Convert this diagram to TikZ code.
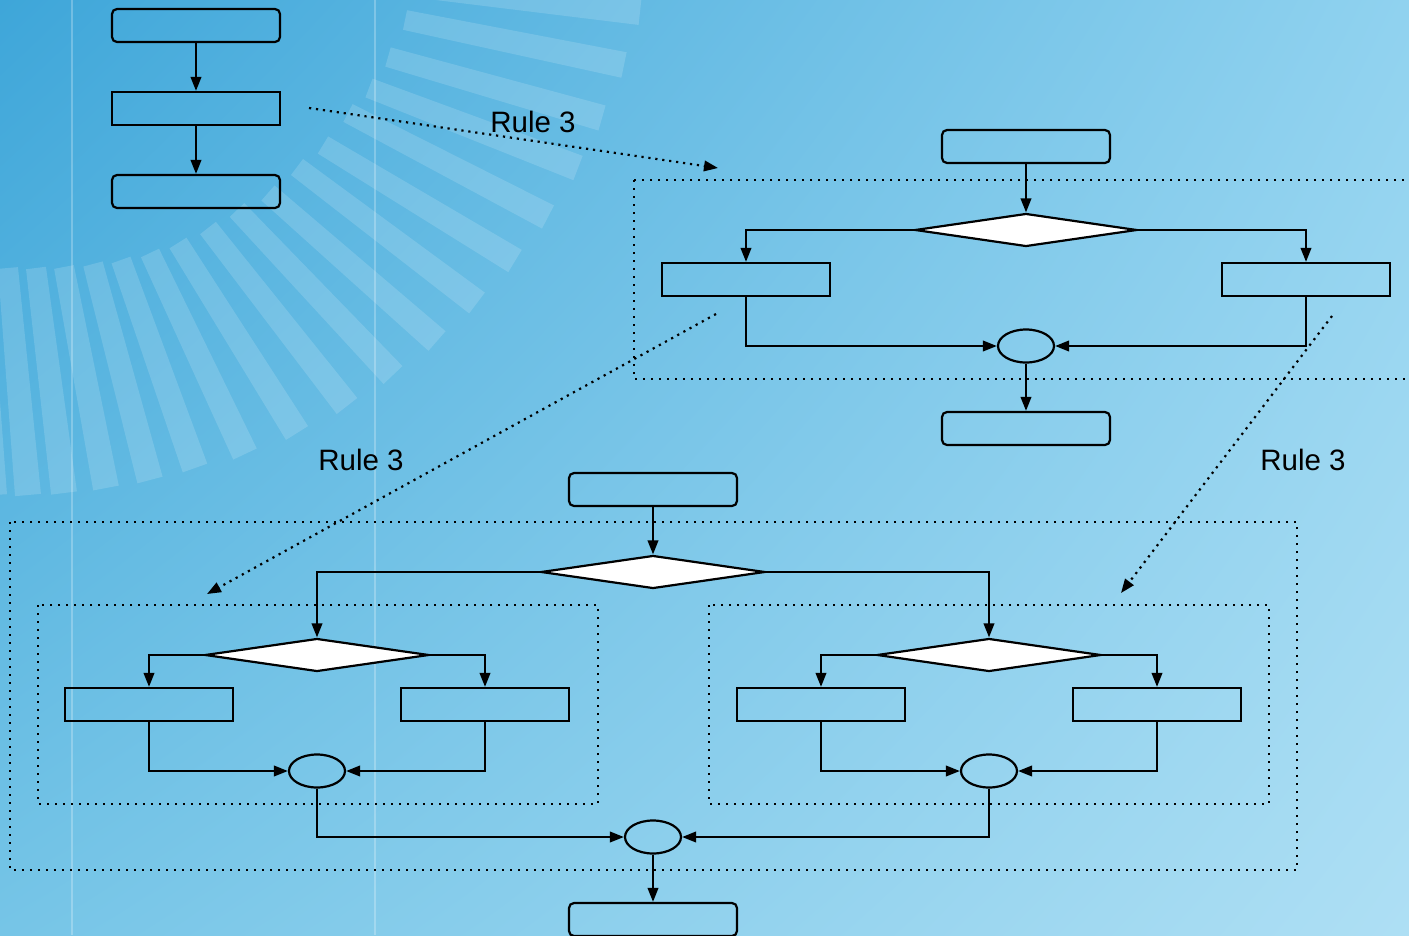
\documentclass[tikz,border=0pt]{standalone}
\usepackage{fontspec}
\setmainfont{Liberation Sans}
\usetikzlibrary{shapes.geometric,arrows.meta,shadings,calc}
\definecolor{bgTL}{HTML}{3EA6D9}
\definecolor{bgTR}{HTML}{90D2EF}
\definecolor{bgBL}{HTML}{76C5E7}
\definecolor{bgBR}{HTML}{AEDFF4}
\begin{document}
\begin{tikzpicture}[x=1pt,y=-1pt,
  line width=2.2pt,
  tip/.style={-{Triangle[length=14pt,width=10.5pt]}},
  flow/.style={draw=black,line width=2.2pt,tip},
  roundbox/.style={draw=black,rectangle,rounded corners=5pt,minimum width=168pt,minimum height=33pt,inner sep=0pt},
  plainbox/.style={draw=black,rectangle,minimum width=168pt,minimum height=33pt,inner sep=0pt},
  decision/.style={draw=black,fill=white,diamond,minimum width=224pt,minimum height=33pt,inner sep=0pt},
  merge/.style={draw=black,ellipse,minimum width=56pt,minimum height=33pt,inner sep=0pt},
  frame/.style={draw=black,line width=2.4pt,dash pattern=on 2.4pt off 5.6pt},
  ruleline/.style={draw=black,line width=2.2pt,dash pattern=on 2.2pt off 4.8pt,tip},
  rulelabel/.style={font=\fontsize{29.5pt}{30pt}\selectfont,inner sep=0pt},
  ray/.style={fill=white,opacity=0.15}
]
\useasboundingbox (0,0) rectangle (1409,935);
\clip (0,0) rectangle (1409,935);

% background
\shade[upper left=bgTL,upper right=bgTR,lower left=bgBL,lower right=bgBR]
  (0,0) rectangle (1409,935);

% sunburst bars: inner end / outer end of each bar's centre line
\foreach \ix/\iy/\ox/\oy in {
  420/-12/640/12, 405/20/624/65, 388/57/602/118, 369/88/578/168,
  348/113/548/217, 323/145/515/261, 297/167/477/303, 268/193/437/341,
  237/210/393/375, 208/228/347/406, 178/243/297/433, 150/253/245/454,
  121/260/195/468, 93/264/150/480, 64/267/106/488, 36/268/64/493,
  8/268/28/495, -20/268/-6/495}{
  \coordinate (rp) at (\ix,\iy);
  \coordinate (rq) at (\ox,\oy);
  \fill[ray] ($(rp)!10pt!90:(rq)$) -- ($(rq)!13pt!-90:(rp)$)
    -- ($(rq)!13pt!90:(rp)$) -- ($(rp)!10pt!-90:(rq)$) -- cycle;
}

% faint vertical rules
\draw[white,opacity=0.25,line width=1.5pt] (72,0) -- (72,935);
\draw[white,opacity=0.25,line width=1.5pt] (375,0) -- (375,935);

% ---- small chain (top left) ----
\node[roundbox] (a1) at (196,25.5) {};
\node[plainbox] (a2) at (196,108.5) {};
\node[roundbox] (a3) at (196,191.5) {};
\draw[flow] (a1) -- (a2);
\draw[flow] (a2) -- (a3);

% ---- single branch (top right) ----
\draw[frame] (634,180) rectangle (1420,379);
\node[roundbox] (t1) at (1026,146.5) {};
\node[decision,minimum width=222pt] (d1) at (1026,230) {};
\node[plainbox] (l1) at (746,279.5) {};
\node[plainbox] (r1) at (1306,279.5) {};
\node[merge] (e1) at (1026,346) {};
\node[roundbox] (t2) at (1026,428.5) {};
\draw[flow] (t1) -- (d1);
\draw[flow] (d1.west) -| (l1.north);
\draw[flow] (d1.east) -| (r1.north);
\draw[flow] (l1.south) |- (e1.west);
\draw[flow] (r1.south) |- (e1.east);
\draw[flow] (e1) -- (t2);

% ---- nested branches (bottom) ----
\draw[frame] (10,522) rectangle (1297,870);
\draw[frame] (38,605) rectangle (598,804);
\draw[frame] (709,605) rectangle (1269,804);

\node[roundbox] (b1) at (653,489.5) {};
\node[decision] (d2) at (653,572) {};
\node[decision] (ld) at (317,655) {};
\node[decision] (rd) at (989,655) {};
\node[plainbox] (ll) at (149,704.5) {};
\node[plainbox] (lr) at (485,704.5) {};
\node[plainbox] (rl) at (821,704.5) {};
\node[plainbox] (rr) at (1157,704.5) {};
\node[merge] (le) at (317,771) {};
\node[merge] (re) at (989,771) {};
\node[merge] (e3) at (653,837) {};
\node[roundbox] (b2) at (653,919.5) {};

\draw[flow] (b1) -- (d2);
\draw[flow] (d2.west) -| (ld.north);
\draw[flow] (d2.east) -| (rd.north);
\draw[flow] (ld.west) -| (ll.north);
\draw[flow] (ld.east) -| (lr.north);
\draw[flow] (rd.west) -| (rl.north);
\draw[flow] (rd.east) -| (rr.north);
\draw[flow] (ll.south) |- (le.west);
\draw[flow] (lr.south) |- (le.east);
\draw[flow] (rl.south) |- (re.west);
\draw[flow] (rr.south) |- (re.east);
\draw[flow] (le.south) |- (e3.west);
\draw[flow] (re.south) |- (e3.east);
\draw[flow] (e3) -- (b2);

% ---- rule arrows ----
\coordinate (s1) at (309,108);
\coordinate (f1) at (718,168);
\coordinate (s2) at (716,314);
\coordinate (f2) at (207,594);
\coordinate (s3) at (1332,316);
\coordinate (f3) at (1121,593);
\draw[ruleline] (s1) -- (f1);
\draw[ruleline] (s2) -- (f2);
\draw[ruleline] (s3) -- (f3);
\node[rulelabel] (r3a) at (533,122) {Rule 3};
\node[rulelabel] (r3b) at (361,460) {Rule 3};
\node[rulelabel] (r3c) at (1303,460) {Rule 3};
\end{tikzpicture}
\end{document}
